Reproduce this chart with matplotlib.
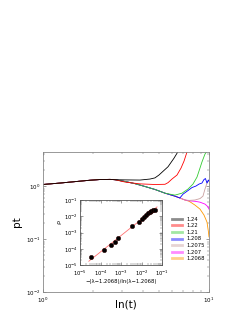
import numpy as np
import matplotlib
matplotlib.use("Agg")
import matplotlib.pyplot as plt
from matplotlib.lines import Line2D
from matplotlib.ticker import NullFormatter

# ---- main panel: pt vs ln(t), one curve per lambda ----
labels = ["1.24", "1.22", "1.21", "1.208", "1.2075", "1.207", "1.2068"]
colors = ["black", "red", "#33cc33", "blue", "#c9a0a0", "magenta", "#ff9900"]

t_head = [1.0, 1.27, 1.68, 1.92, 2.21, 2.54, 2.72]
pt_head = [1.08, 1.15, 1.25, 1.30, 1.34, 1.35, 1.33]

t_124 = [3.13, 3.84, 4.42, 4.73, 5.0, 5.67, 6.15, 6.54]
pt_124 = [1.32, 1.31, 1.37, 1.44, 1.63, 2.34, 3.37, 4.63]

t_122 = [3.13, 3.84, 4.73, 5.44, 5.67, 5.99, 6.42, 6.79, 7.08, 7.37]
pt_122 = [1.20, 1.11, 1.08, 1.09, 1.17, 1.37, 1.63, 2.21, 3.0, 4.43]

t_fall = [3.13, 3.59, 4.12, 4.73, 5.44, 6.24, 6.68, 7.17]
pt_fall = [1.23, 1.12, 0.99, 0.87, 0.74, 0.65, 0.60, 0.55]

t_121 = [6.24, 6.88, 7.48, 8.01, 8.47, 8.83, 9.07, 9.46, 9.73]
pt_121 = [0.68, 0.74, 0.885, 1.10, 1.49, 2.21, 2.87, 4.06, 4.6]

t_1208 = [6.98, 7.48, 7.90, 8.35, 8.71, 9.07, 9.33, 9.52, 9.73, 9.91, 10.0]
pt_1208 = [0.71, 0.83, 0.945, 1.01, 1.10, 1.15, 1.34, 1.40, 1.15, 1.31, 1.25]

t_12075 = [7.6, 8.24, 8.83, 9.2, 9.46, 9.73, 10.0]
pt_12075 = [0.54, 0.55, 0.585, 0.65, 0.885, 1.15, 1.31]

t_1207 = [7.6, 8.24, 8.83, 9.46, 9.86, 10.0]
pt_1207 = [0.53, 0.52, 0.50, 0.46, 0.41, 0.37]

t_12068 = [7.6, 8.24, 8.83, 9.33, 9.73, 9.93, 10.0]
pt_12068 = [0.52, 0.44, 0.37, 0.286, 0.21, 0.136, 0.11]

# ---- inset: rho vs -(lambda-lc)/ln(lambda-lc) ----
x_ins = [3.6e-5, 1.4e-4, 3.2e-4, 4.8e-4, 7.2e-4, 3.5e-3, 7.1e-3, 1.07e-2,
         1.32e-2, 1.66e-2, 2.09e-2, 2.51e-2, 3.02e-2, 3.63e-2, 4.37e-2]
y_ins = [3.2e-5, 8.3e-5, 1.7e-4, 2.8e-4, 4.4e-4, 2.4e-3, 4.6e-3, 7.4e-3,
         9.8e-3, 1.26e-2, 1.51e-2, 1.82e-2, 2.09e-2, 2.4e-2, 2.63e-2]


def series(k):
    tail_t, tail_p = {
        0: (t_124, pt_124),
        1: (t_122, pt_122),
        2: (t_fall[:5] + t_121, pt_fall[:5] + pt_121),
        3: (t_fall[:7] + t_1208, pt_fall[:7] + pt_1208),
        4: (t_fall + t_12075, pt_fall + pt_12075),
        5: (t_fall + t_1207, pt_fall + pt_1207),
        6: (t_fall + t_12068, pt_fall + pt_12068),
    }[k]
    return t_head + tail_t, pt_head + tail_p


def style_axes(a, edge, labelsize, xpad):
    a.tick_params(which="both", direction="in", top=True, right=True,
                  labelsize=labelsize, pad=1.5, colors="#555555",
                  labelcolor="black")
    a.tick_params(axis="x", which="both", pad=xpad)
    a.tick_params(which="major", length=2.2, width=0.4)
    a.tick_params(which="minor", length=1.1, width=0.3)
    a.xaxis.set_minor_formatter(NullFormatter())
    a.yaxis.set_minor_formatter(NullFormatter())
    for s in a.spines.values():
        s.set_color(edge)
        s.set_linewidth(0.6)


plt.rcParams["font.family"] = ["DejaVu Sans"]
fig = plt.figure(figsize=(2.53, 3.27), dpi=100)

ax = fig.add_axes([0.169, 0.107, 0.657, 0.429])
for k in range(len(labels) - 1, -1, -1):
    t, p = series(k)
    ax.plot(t, p, color=colors[k], lw=0.6)
ax.set_xscale("log")
ax.set_yscale("log")
ax.set_xlim(1, 10)
ax.set_ylim(0.01, 4.5)
ax.set_xlabel("ln(t)", fontsize=7.5, labelpad=-4)
ax.set_ylabel("pt", fontsize=7.5, labelpad=3)
style_axes(ax, "#888888", 4, 3)

handles = [Line2D([], [], color=c, lw=2, alpha=0.45) for c in colors]
ax.legend(handles, labels, loc="center left",
          bbox_to_anchor=(0.776, 0.378), frameon=False, fontsize=3.8,
          handlelength=1.9, handletextpad=0.9, labelspacing=0.3,
          borderpad=0, borderaxespad=0)

# inset
ai = fig.add_axes([0.316, 0.189, 0.325, 0.199])
lx = np.log10(x_ins)
ly = np.log10(y_ins)
coef = np.polyfit(lx, ly, 1)
xf = np.array([np.log10(2.7e-5), np.log10(5.6e-2)])
ai.plot(10 ** xf, 10 ** np.polyval(coef, xf), color="#ff7070", lw=0.6,
        zorder=2)
ai.plot(x_ins, y_ins, "o", ms=3.2, color="black", mec="#330000", mew=0.3,
        zorder=3)
ai.set_xscale("log")
ai.set_yscale("log")
ai.set_xlim(1e-5, 1e-1)
ai.set_ylim(1e-5, 1e-1)
ai.set_xticks([1e-5, 1e-4, 1e-3, 1e-2, 1e-1])
ai.set_yticks([1e-5, 1e-4, 1e-3, 1e-2, 1e-1])
ai.set_xlabel("\u2212(\u03bb\u22121.2068)/ln(\u03bb\u22121.2068)",
              fontsize=3.8, labelpad=1)
ai.set_ylabel("\u03c1", fontsize=4.5)
ai.yaxis.set_label_coords(-0.22, 0.66)
style_axes(ai, "#555555", 3.8, 2.5)

fig.savefig("out.png", dpi=100, facecolor="white")
